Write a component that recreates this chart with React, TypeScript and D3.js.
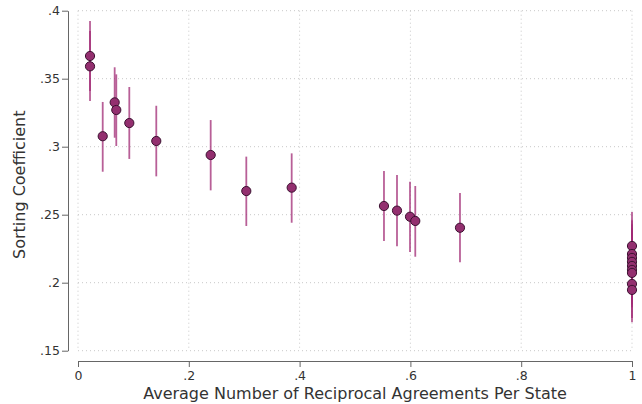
import { useEffect, useRef } from 'react'
import * as d3 from 'd3'

// point estimates
const xVals = [0.0217, 0.0217, 0.0446, 0.0662, 0.0691, 0.0926, 0.1413, 0.2395, 0.3038, 0.3857, 0.5523, 0.5758, 0.5993, 0.6088, 0.6895,
  1, 1, 1, 1, 1, 1, 1, 1, 1]
const yVals = [0.3667, 0.3591, 0.3077, 0.3326, 0.327, 0.3174, 0.3042, 0.2939, 0.2674, 0.2699, 0.2564, 0.253, 0.2485, 0.2454, 0.2404,
  0.227, 0.2211, 0.2182, 0.2153, 0.2123, 0.2094, 0.2072, 0.1991, 0.1947]
const ciLow = [0.341, 0.3336, 0.2816, 0.3066, 0.3005, 0.291, 0.2782, 0.2679, 0.2417, 0.2441, 0.2307, 0.2268, 0.2226, 0.2191, 0.215,
  0.202, 0.196, 0.193, 0.19, 0.187, 0.184, 0.182, 0.174, 0.171]
const ciHigh = [0.3925, 0.3851, 0.3329, 0.3584, 0.3532, 0.3439, 0.3301, 0.3196, 0.2927, 0.2951, 0.2821, 0.2792, 0.2743, 0.2711, 0.266,
  0.252, 0.246, 0.243, 0.24, 0.237, 0.234, 0.232, 0.224, 0.22]

const xTicks = [0, 0.2, 0.4, 0.6, 0.8, 1]
const yTicks = [0.15, 0.2, 0.25, 0.3, 0.35, 0.4]

const fmt = (d: number) => (d === 0 || d === 1 ? String(d) : String(d).replace(/^0/, ''))

export default function App() {
  const svgRef = useRef<SVGSVGElement>(null)
  const width = 642
  const height = 404

  useEffect(() => {
    if (!svgRef.current) return
    const svg = d3.select(svgRef.current)
    svg.selectAll('*').remove()

    const font = 'DejaVu Sans, sans-serif'
    const xScale = d3.scaleLinear().domain([0, 1]).range([78, 632])
    const yScale = d3.scaleLinear().domain([0.15, 0.4]).range([350.7, 10.7])
    const axisX = 68
    const axisY = 361

    // gridlines
    const grid = svg.append('g')
    for (const t of yTicks) {
      grid.append('line')
        .attr('x1', xScale(0)).attr('x2', xScale(1))
        .attr('y1', yScale(t)).attr('y2', yScale(t))
        .attr('stroke', '#c8c8c8').attr('stroke-width', 1).attr('stroke-dasharray', '1,3')
    }
    for (const t of xTicks) {
      grid.append('line')
        .attr('x1', xScale(t)).attr('x2', xScale(t))
        .attr('y1', yScale(0.4)).attr('y2', yScale(0.15))
        .attr('stroke', '#c8c8c8').attr('stroke-width', 1).attr('stroke-dasharray', '1,3')
    }

    // y axis
    const yAxis = svg.append('g').attr('transform', `translate(${axisX},0)`)
      .call(d3.axisLeft(yScale).tickValues(yTicks).tickFormat(d => fmt(+d)).tickSize(6).tickSizeOuter(0))
    yAxis.select('.domain').attr('stroke', '#666')
    yAxis.selectAll('.tick line').attr('stroke', '#666')
    yAxis.selectAll('text').attr('fill', '#333').attr('font-size', '12.5px').attr('font-family', font)
      .attr('x', -8)

    // x axis
    const xAxis = svg.append('g').attr('transform', `translate(0,${axisY})`)
      .call(d3.axisBottom(xScale).tickValues(xTicks).tickFormat(d => fmt(+d)).tickSize(6).tickSizeOuter(0))
    xAxis.select('.domain').attr('stroke', '#666')
    xAxis.selectAll('.tick line').attr('stroke', '#666')
    xAxis.selectAll('text').attr('fill', '#333').attr('font-size', '12.5px').attr('font-family', font)
      .attr('y', 10)

    // axis titles
    svg.append('text')
      .attr('x', 355).attr('y', 399)
      .attr('text-anchor', 'middle').attr('fill', '#333')
      .attr('font-size', '16px').attr('font-family', font)
      .text('Average Number of Reciprocal Agreements Per State')
    svg.append('text')
      .attr('transform', `translate(25,${yScale(0.272)}) rotate(-90)`)
      .attr('text-anchor', 'middle').attr('fill', '#333')
      .attr('font-size', '16px').attr('font-family', font)
      .text('Sorting Coefficient')

    // confidence intervals
    svg.append('g').selectAll('line').data(xVals).join('line')
      .attr('x1', (d) => xScale(d)).attr('x2', (d) => xScale(d))
      .attr('y1', (_, i) => yScale(ciLow[i])).attr('y2', (_, i) => yScale(ciHigh[i]))
      .attr('stroke', '#a02a74').attr('stroke-width', 1.8).attr('stroke-opacity', 0.75)

    // point estimates
    svg.append('g').selectAll('circle').data(xVals).join('circle')
      .attr('cx', (d) => xScale(d)).attr('cy', (_, i) => yScale(yVals[i]))
      .attr('r', 4.6)
      .attr('fill', '#932f6f').attr('stroke', '#3c1131').attr('stroke-width', 1)
  }, [])

  return (
    <svg ref={svgRef} width={width} height={height}
      style={{ position: 'absolute', left: 0, top: 0, background: '#fff' }} />
  )
}
